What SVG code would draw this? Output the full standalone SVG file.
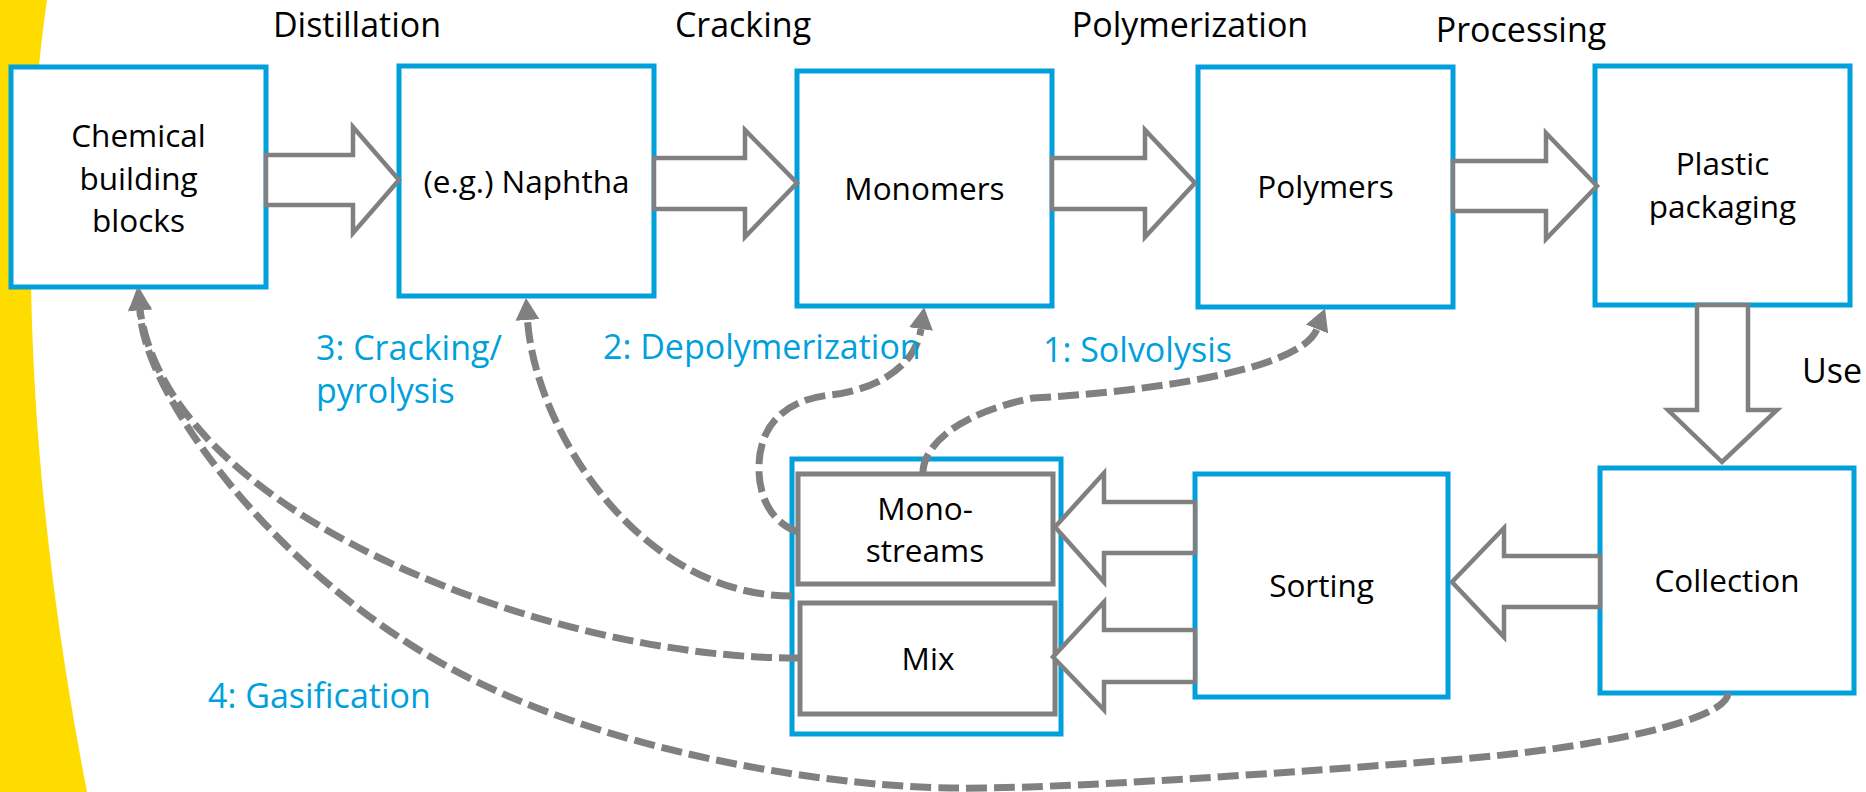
<svg xmlns="http://www.w3.org/2000/svg" width="1866" height="792" viewBox="0 0 1866 792">
<defs>
<style>
.box{fill:#fff;stroke:#00A0DC;stroke-width:5}
.sub{fill:#fff;stroke:#808080;stroke-width:5}
.blk{fill:#fff;stroke:#808080;stroke-width:4.5;stroke-linejoin:miter}
.dash{fill:none;stroke:#808080;stroke-width:7;stroke-dasharray:21 7}
text{font-family:"Open Sans","Noto Sans",sans-serif}
.step{font-size:34px;fill:#000;text-anchor:middle}
.node{font-size:31.5px;fill:#000;text-anchor:middle}
.route{font-size:34px;fill:#00A0DC}
</style>
<marker id="ah" viewBox="0 0 22 24" refX="0" refY="12" markerWidth="22" markerHeight="24" markerUnits="userSpaceOnUse" orient="auto">
<path d="M0,0 L22,12 L0,24 Z" fill="#808080"/>
</marker>
</defs>
<rect width="1866" height="792" fill="#fff"/>
<path d="M0,0 L47,0 C25,150 15,420 87,792 L0,792 Z" fill="#FFDC00"/>

<g id="nodes">
<g id="chemical"><rect class="box" x="11" y="67" width="255" height="220"/><text class="node" x="138.5" y="147">Chemical</text><text class="node" x="138.5" y="190">building</text><text class="node" x="138.5" y="232">blocks</text></g>
<g id="naphtha"><rect class="box" x="399" y="66" width="255" height="230"/><text class="node" x="526.5" y="193">(e.g.) Naphtha</text></g>
<g id="monomers"><rect class="box" x="797" y="71" width="255" height="235"/><text class="node" x="924.5" y="200">Monomers</text></g>
<g id="polymers"><rect class="box" x="1198" y="67" width="255" height="240"/><text class="node" x="1325.5" y="198">Polymers</text></g>
<g id="plastic"><rect class="box" x="1595" y="66" width="255" height="239"/><text class="node" x="1722.5" y="175">Plastic</text><text class="node" x="1722.5" y="218">packaging</text></g>
<g id="collection"><rect class="box" x="1600" y="468" width="254" height="225"/><text class="node" x="1727" y="592">Collection</text></g>
<g id="sorting"><rect class="box" x="1195" y="474" width="253" height="223"/><text class="node" x="1321.5" y="597">Sorting</text></g>
<g id="streams"><rect class="box" x="792" y="459" width="269" height="275"/>
<g id="monostreams"><rect class="sub" x="798" y="474" width="255" height="110"/><text class="node" x="925" y="520">Mono-</text><text class="node" x="925" y="562">streams</text></g>
<g id="mix"><rect class="sub" x="800" y="603" width="255" height="111"/><text class="node" x="928" y="670">Mix</text></g>
</g>
</g>

<g id="step-labels">
<text class="step" x="357" y="37">Distillation</text>
<text class="step" x="743" y="37">Cracking</text>
<text class="step" x="1190" y="37">Polymerization</text>
<text class="step" x="1521" y="42">Processing</text>
<text class="step" x="1832" y="383">Use</text>
</g>

<g id="connectors">
<polygon class="blk" points="266,155 353,155 353,127 399,180 353,233 353,205 266,205"/>
<polygon class="blk" points="654,158 745,158 745,130 797,183 745,237 745,209 654,209"/>
<polygon class="blk" points="1052,158 1145,158 1145,130 1195,183 1145,237 1145,209 1052,209"/>
<polygon class="blk" points="1453,161 1546,161 1546,133 1597,186 1546,239 1546,211 1453,211"/>
<polygon class="blk" points="1697,305 1748,305 1748,410 1777,410 1722,462 1668,410 1697,410"/>
<polygon class="blk" points="1600,556 1504,556 1504,528 1452,582 1504,637 1504,607 1600,607"/>
<polygon class="blk" points="1195,502 1104,502 1104,473 1055,527 1104,582 1104,553 1195,553"/>
<polygon class="blk" points="1195,630 1104,630 1104,602 1053,657 1104,710 1104,682 1195,682"/>

<path class="dash" marker-end="url(#ah)" d="M923,474 C922,450 950,415 1033,398 C1140,392 1300,372 1317,329"/>
<path class="dash" marker-end="url(#ah)" d="M798,532 C770,522 758,495 759,465 C760,425 785,400 830,395 C870,391 915,370 921,329"/>
<path class="dash" marker-end="url(#ah)" d="M792,596 C640,596 535,430 527.5,320"/>
<path class="dash" marker-end="url(#ah)" d="M800,658 C560,660 170,520 140,310"/>
<path class="dash" marker-end="url(#ah)" d="M1728,693 C1728,720 1600,748 1450,760 C1300,772 1050,790 950,788 C850,787 620,760 450,668 C270,570 142,390 140,310"/>
</g>

<g id="route-labels">
<text class="route" x="316" y="360">3: Cracking/</text>
<text class="route" x="316" y="403">pyrolysis</text>
<text class="route" x="603" y="359">2: Depolymerization</text>
<text class="route" x="1043" y="362">1: Solvolysis</text>
<text class="route" x="208" y="708">4: Gasification</text>
</g>
</svg>
